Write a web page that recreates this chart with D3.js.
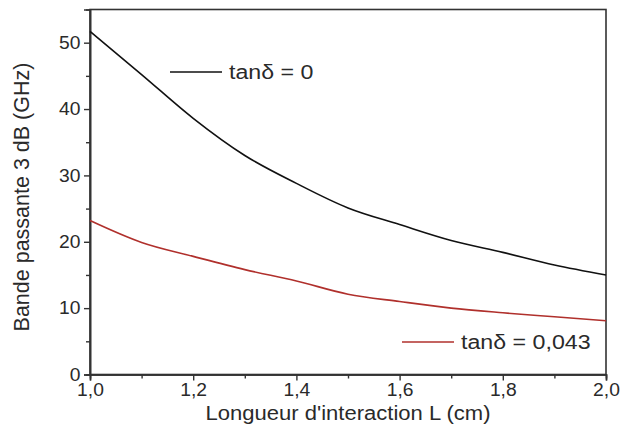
<!DOCTYPE html>
<html><head><meta charset="utf-8">
<script src="https://cdn.jsdelivr.net/npm/d3@7"></script>
<style>body{margin:0;background:#fff}svg{display:block}text{font-family:Arial,"Liberation Sans",sans-serif;fill:#2a2a2a}</style>
</head><body>
<script>
const L = [1.0,1.1,1.2,1.3,1.4,1.5,1.6,1.7,1.8,1.9,2.0];
const bwLossless = [51.7,45.2,38.6,33.0,28.8,25.1,22.6,20.2,18.4,16.5,15.0];
const bwLossy = [23.2,19.9,17.8,15.8,14.1,12.1,11.0,10.0,9.3,8.7,8.1];
const xTicks = [1.0,1.2,1.4,1.6,1.8,2.0];
const yTicks = [0,10,20,30,40,50];
const legendLabels = ["tanδ = 0","tanδ = 0,043"];
const colors = ["#111111","#b0302c"];

const W=621,H=441;
const m={l:90,r:15,t:9.5,b:66.5};
const svg=d3.select("body").append("svg").attr("width",W).attr("height",H);
const x=d3.scaleLinear().domain([1.0,2.0]).range([m.l,W-m.r]);
const y=d3.scaleLinear().domain([0,55]).range([H-m.b,m.t]);

// frame
svg.append("rect").attr("x",m.l).attr("y",m.t).attr("width",W-m.r-m.l).attr("height",H-m.b-m.t)
  .attr("fill","none").attr("stroke","#333").attr("stroke-width",1.6);

// y axis
const ya=svg.append("g").attr("transform",`translate(${m.l},0)`)
  .call(d3.axisLeft(y).tickValues(yTicks).tickSize(6).tickPadding(3).tickFormat(d3.format("d")));
const yMinor=svg.append("g").attr("transform",`translate(${m.l},0)`)
  .call(d3.axisLeft(y).tickValues([5,15,25,35,45]).tickSize(4).tickFormat(""));
// x axis
const xa=svg.append("g").attr("transform",`translate(0,${H-m.b})`)
  .call(d3.axisBottom(x).tickValues(xTicks).tickSize(6).tickPadding(3).tickFormat(d=>d3.format(".1f")(d).replace(".",",")));
const xMinor=svg.append("g").attr("transform",`translate(0,${H-m.b})`)
  .call(d3.axisBottom(x).tickValues([1.1,1.3,1.5,1.7,1.9]).tickSize(4).tickFormat(""));
[ya,yMinor,xa,xMinor].forEach(g=>{
  g.select(".domain").attr("stroke","#333").attr("stroke-width",1.6);
  g.selectAll(".tick line").attr("stroke","#333").attr("stroke-width",1.4);
  g.selectAll(".tick text").style("font-size","18px").style("font-family","Arial,'Liberation Sans',sans-serif")
    .attr("fill","#2a2a2a").attr("transform","scale(1.07,1)");
});

// titles
svg.append("text").attr("transform",`translate(${(m.l+W-m.r)/2},420) scale(1.13,1)`).attr("text-anchor","middle")
  .style("font-size","19.5px").text("Longueur d'interaction L (cm)");
svg.append("text").attr("transform",`translate(29,${(m.t+H-m.b)/2+5}) rotate(-90)`).attr("text-anchor","middle")
  .style("font-size","21.5px").text("Bande passante 3 dB (GHz)");

// lines
const line=d3.line().x((d,i)=>x(L[i])).y(d=>y(d)).curve(d3.curveMonotoneX);
[bwLossless,bwLossy].forEach((s,k)=>{
  svg.append("path").datum(s).attr("d",line).attr("fill","none").attr("stroke",colors[k]).attr("stroke-width",1.6);
});

// legends
const leg=[{x1:170,x2:222,y:72,tx:229},{x1:402,x2:454,y:342,tx:461}];
leg.forEach((p,k)=>{
  svg.append("line").attr("x1",p.x1).attr("x2",p.x2).attr("y1",p.y).attr("y2",p.y).attr("stroke",colors[k]).attr("stroke-width",1.6);
  svg.append("text").attr("transform",`translate(${p.tx},${p.y+7}) scale(1.16,1)`).style("font-size","20px").text(legendLabels[k]);
});
</script>
</body></html>
